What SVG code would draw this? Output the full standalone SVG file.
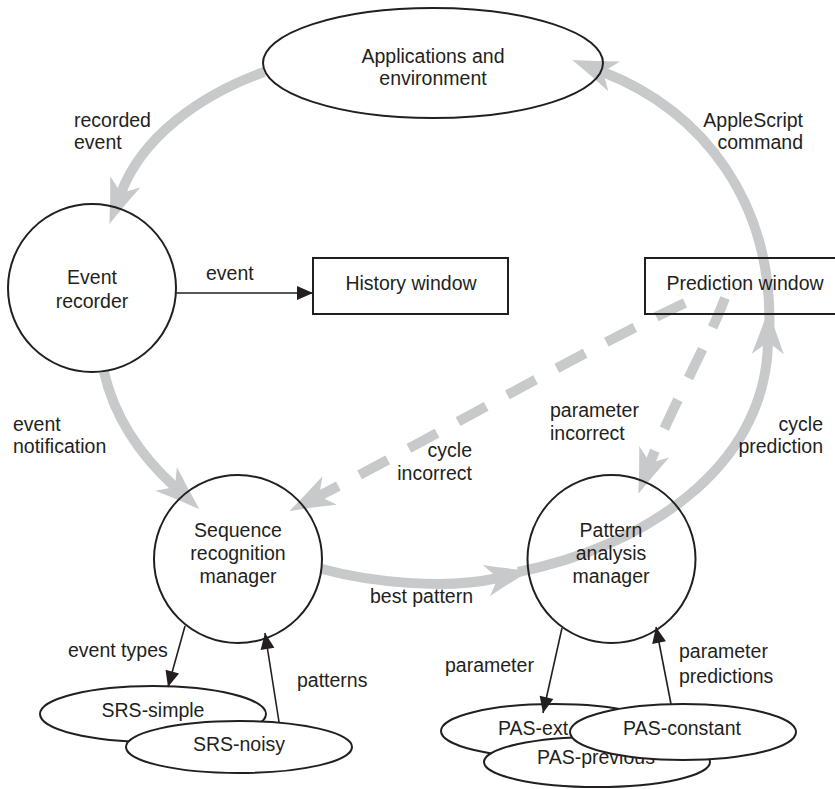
<svg xmlns="http://www.w3.org/2000/svg" width="835" height="789" viewBox="0 0 835 789">
<style>
text{font-family:"Liberation Sans",Arial,sans-serif;font-size:19.5px;fill:#231f20}
.m{text-anchor:middle}
.e{text-anchor:end}
.node{fill:none;stroke:#231f20;stroke-width:2}
.wn{fill:#fff;stroke:#231f20;stroke-width:2}
.band{fill:none;stroke:#c8c9cb;stroke-width:10;marker-end:url(#ga)}
.dash{fill:none;stroke:#c8c9cb;stroke-width:10;stroke-dasharray:32 24;marker-end:url(#ga)}
.blk{fill:none;stroke:#231f20;stroke-width:1.6;marker-end:url(#ba)}
</style>
<defs>
<marker id="ga" markerUnits="userSpaceOnUse" orient="auto" overflow="visible" markerWidth="1" markerHeight="1" refX="0" refY="0">
<path d="M33,0 Q10,-7.5 -12,-16 L0,0 L-12,16 Q10,7.5 33,0 Z" fill="#c8c9cb"/>
</marker>
<marker id="ba" markerUnits="userSpaceOnUse" orient="auto" overflow="visible" markerWidth="1" markerHeight="1" refX="0" refY="0">
<path d="M0,0 L-16,-7 L-16,7 Z" fill="#231f20"/>
</marker>
</defs>

<g id="connectors">
<path class="band" d="M264,72 C200,95 142,137 121,193"/>
<path class="band" d="M104,372 C115,420 142,457 175,487"/>
<path class="band" d="M322,569 C370,582 445,590 498,578"/>
<path class="band" d="M518,572 C640,548 766,470 768,342"/>
<path class="band" d="M769,338 C776,200 700,110 603,72"/>
<path class="dash" d="M685,303 C580,352 410,450 319,496"/>
<path class="dash" d="M725,298 C705,350 670,410 650,463"/>
<path class="blk" d="M176,293 H313"/>
<path class="blk" d="M185,626 L168,687"/>
<path class="blk" d="M279,722 L265,633"/>
<path class="blk" d="M562,628 L543,713"/>
<path class="blk" d="M671,704 L656,627"/>
</g>

<g id="labels">
<text x="74" y="127">recorded</text>
<text x="74" y="149">event</text>
<text class="e" x="803" y="127">AppleScript</text>
<text class="e" x="803" y="149">command</text>
<text x="206" y="280">event</text>
<text x="13" y="431">event</text>
<text x="13" y="453">notification</text>
<text class="e" x="472" y="457">cycle</text>
<text class="e" x="472" y="480">incorrect</text>
<text x="550" y="417">parameter</text>
<text x="550" y="440">incorrect</text>
<text class="e" x="823" y="431">cycle</text>
<text class="e" x="823" y="453">prediction</text>
<text x="370" y="603">best pattern</text>
<text x="68" y="657">event types</text>
<text x="297" y="687">patterns</text>
<text x="445" y="672">parameter</text>
<text x="679" y="658">parameter</text>
<text x="679" y="683">predictions</text>
</g>

<g id="applications">
<ellipse class="node" cx="433" cy="63" rx="170" ry="55"/>
<text class="m" x="433" y="63">Applications and</text>
<text class="m" x="433" y="85">environment</text>
</g>
<g id="event-recorder">
<circle class="node" cx="92" cy="288" r="84"/>
<text class="m" x="92" y="284">Event</text>
<text class="m" x="92" y="308">recorder</text>
</g>
<g id="history-window">
<rect class="node" x="313" y="258" width="195" height="56"/>
<text class="m" x="411" y="290">History window</text>
</g>
<g id="prediction-window">
<rect class="node" x="645" y="258" width="200" height="56"/>
<text class="m" x="745" y="290">Prediction window</text>
</g>
<g id="sequence-manager">
<circle class="node" cx="238" cy="559" r="84"/>
<text class="m" x="238" y="537">Sequence</text>
<text class="m" x="238" y="560">recognition</text>
<text class="m" x="238" y="583">manager</text>
</g>
<g id="pattern-manager">
<circle class="node" cx="611.5" cy="559" r="84"/>
<text class="m" x="611" y="537">Pattern</text>
<text class="m" x="611" y="560">analysis</text>
<text class="m" x="611" y="583">manager</text>
</g>
<g id="srs-simple">
<ellipse class="node" cx="153" cy="714" rx="113" ry="28"/>
<text class="m" x="153" y="717">SRS-simple</text>
</g>
<g id="srs-noisy">
<ellipse class="wn" cx="239" cy="747" rx="113" ry="26"/>
<text class="m" x="239" y="751">SRS-noisy</text>
</g>
<g id="pas-ext">
<ellipse class="node" cx="554" cy="731" rx="113" ry="27"/>
<text x="498" y="735">PAS-ext</text>
</g>
<g id="pas-previous">
<ellipse class="wn" cx="597" cy="762" rx="113" ry="25"/>
<text class="m" x="596" y="764">PAS-previous</text>
</g>
<g id="pas-constant">
<ellipse class="wn" cx="683" cy="732" rx="113" ry="28"/>
<text class="m" x="682" y="735">PAS-constant</text>
</g>
</svg>
